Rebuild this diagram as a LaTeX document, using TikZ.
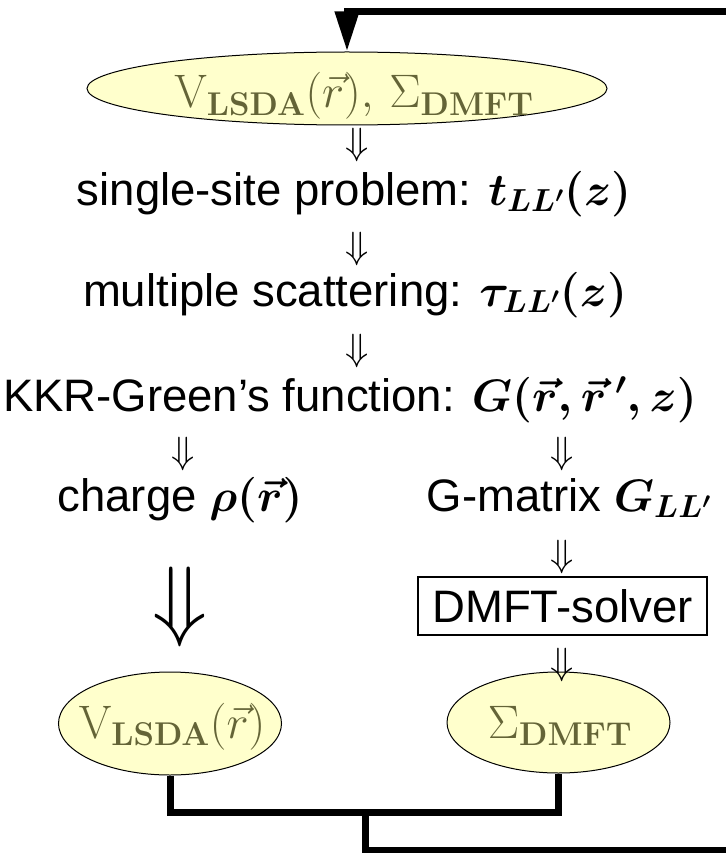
\documentclass[tikz,border=0pt]{standalone}
\usepackage{fix-cm}
\usepackage[no-math]{fontspec}
\setmainfont{Liberation Sans}
\usetikzlibrary{shapes.geometric,arrows.meta}
\definecolor{ellfill}{RGB}{255,255,204}
\definecolor{olivetext}{RGB}{100,100,55}
\tikzset{
  ell/.style={ellipse, draw=black, line width=1pt, fill=ellfill, inner sep=0pt},
  elltext/.style={anchor=base, inner sep=0pt, text=olivetext, font=\fontsize{47}{50}\selectfont},
  lbl/.style={anchor=base, inner sep=0pt, font=\fontsize{45.5}{50}\selectfont\boldmath},
  darr/.style={inner sep=0pt, font=\fontsize{38}{40}\selectfont},
  bigdarr/.style={inner sep=0pt, font=\fontsize{90}{90}\selectfont},
  solverbox/.style={draw=black, line width=1.2pt, inner sep=0pt, minimum width=289pt,
    minimum height=58pt},
  loopline/.style={line width=7pt, draw=black, line join=miter},
}
\begin{document}
\begin{tikzpicture}[x=1pt,y=-1pt]
\useasboundingbox (0,0) rectangle (725,853);
% top ellipse
\node[ell, minimum width=520pt, minimum height=73pt] (top) at (347,88.5) {};
\node[elltext] (toptext) at (354,108)
  {$\mathrm{V}_{\mathbf{LSDA}}(\vec{r}),\,\Sigma_{\mathbf{DMFT}}$};
\node[darr] (a1) at (357,145) {$\Downarrow$};
\node[lbl] (single) at (354,205) {single-site problem: $t_{LL^\prime}(z)$};
\node[darr] (a2) at (357,249) {$\Downarrow$};
\node[lbl] (multi) at (355,306) {multiple scattering: $\tau_{LL^\prime}(z)$};
\node[darr] (a3) at (357,351) {$\Downarrow$};
\node[lbl] (kkr) at (350,411) {KKR-Green’s function: $G(\vec{r},\vec{r}\,^\prime,z)$};
\node[darr] (a4) at (183,454) {$\Downarrow$};
\node[darr] (a5) at (562,454) {$\Downarrow$};
\node[lbl] (charge) at (180,511) {charge $\rho(\vec{r})$};
\node[lbl] (gmat) at (569,511) {G-matrix $G_{LL^\prime}$};
\node[darr] (a6) at (562,557) {$\Downarrow$};
\node[bigdarr] (a7) at (180,607) {$\Downarrow$};
\node[solverbox] (solver) at (562.5,606) {};
\node[lbl] (solvertext) at (562.5,622) {DMFT-solver};
% bottom ellipses
\node[ell, minimum width=223pt, minimum height=103pt] (vl) at (170,723.5) {};
\node[elltext] (vltext) at (172,738) {$\mathrm{V}_{\mathbf{LSDA}}(\vec{r})$};
\node[ell, minimum width=223pt, minimum height=101pt] (sd) at (558.5,722.5) {};
\node[elltext] (sdtext) at (560,738) {$\Sigma_{\mathbf{DMFT}}$};
\node[darr] (a8) at (562,665) {$\Downarrow$};
% feedback loop
\coordinate (jl) at (vl.south |- 0,812);
\coordinate (jr) at (sd.south |- 0,812);
\coordinate (jm) at (365,812);
\coordinate (jb) at (365,850);
\coordinate (eb) at (735,850);
\coordinate (et) at (735,12);
\coordinate (ct) at (top.north |- 0,12);
\draw[loopline] (vl.south) -- (jl) -- (jr) -- (sd.south);
\draw[loopline] (jm) -- (jb) -- (eb);
\draw[loopline, -{Triangle[width=23pt,length=40pt]}] (et) -- (ct) -- (top.north);
\end{tikzpicture}
\end{document}
